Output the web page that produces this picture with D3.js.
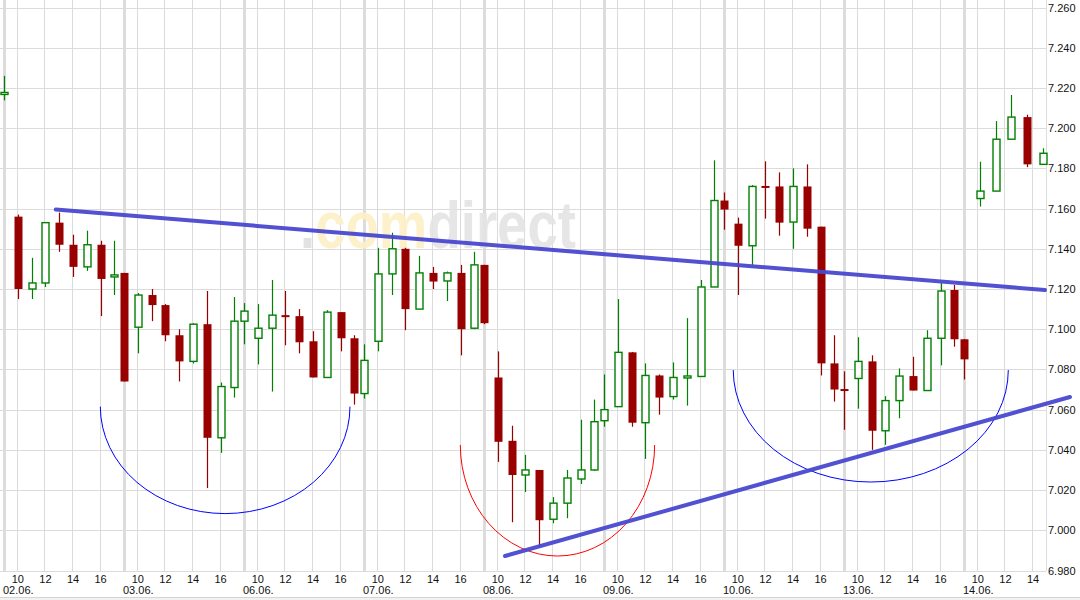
<!DOCTYPE html>
<html>
<head>
<meta charset="utf-8">
<script src="https://cdn.jsdelivr.net/npm/d3@7/dist/d3.min.js"></script>
<style>
  html, body { margin: 0; padding: 0; background: #ffffff; }
  svg { display: block; }
  text { font-family: "Liberation Sans", Arial, sans-serif; }
</style>
</head>
<body>
<svg id="chart" width="1080" height="600"></svg>
<script>
// ---------- DATA ----------
const dayLabels = ["02.06.", "03.06.", "06.06.", "07.06.", "08.06.", "09.06.", "10.06.", "13.06.", "14.06."];
const hourTicks = [10, 12, 14, 16];
const priceTicks = [6.98, 7.00, 7.02, 7.04, 7.06, 7.08, 7.10, 7.12, 7.14, 7.16, 7.18, 7.20, 7.22, 7.24, 7.26];

// [dayIndex, hour, open, high, low, close]
const candles = [
  [0, 9, 7.2170, 7.2260, 7.2138, 7.2175],
  [0, 10, 7.1560, 7.1570, 7.1150, 7.1200],
  [0, 11, 7.1200, 7.1355, 7.1150, 7.1230],
  [0, 12, 7.1230, 7.1530, 7.1210, 7.1530],
  [0, 13, 7.1530, 7.1580, 7.1385, 7.1420],
  [0, 14, 7.1420, 7.1470, 7.1260, 7.1310],
  [0, 15, 7.1310, 7.1490, 7.1290, 7.1420],
  [0, 16, 7.1420, 7.1440, 7.1065, 7.1250],
  [0, 17, 7.1260, 7.1440, 7.1170, 7.1270],
  [1, 9, 7.1280, 7.1280, 7.0740, 7.0740],
  [1, 10, 7.1010, 7.1180, 7.0880, 7.1170],
  [1, 11, 7.1170, 7.1200, 7.1040, 7.1120],
  [1, 12, 7.1120, 7.1125, 7.0940, 7.0970],
  [1, 13, 7.0970, 7.1000, 7.0740, 7.0840],
  [1, 14, 7.0840, 7.1030, 7.0830, 7.1025],
  [1, 15, 7.1025, 7.1190, 7.0210, 7.0460],
  [1, 16, 7.0460, 7.0735, 7.0385, 7.0715],
  [1, 17, 7.0710, 7.1160, 7.0660, 7.1040],
  [2, 9, 7.1040, 7.1130, 7.0925, 7.1090],
  [2, 10, 7.0955, 7.1125, 7.0825, 7.1005],
  [2, 11, 7.1005, 7.1245, 7.0690, 7.1070],
  [2, 12, 7.1070, 7.1190, 7.0920, 7.1060],
  [2, 13, 7.1065, 7.1100, 7.0880, 7.0935],
  [2, 14, 7.0940, 7.0990, 7.0760, 7.0760],
  [2, 15, 7.0760, 7.1095, 7.0760, 7.1085],
  [2, 16, 7.1085, 7.1085, 7.0890, 7.0955],
  [2, 17, 7.0955, 7.0970, 7.0625, 7.0680],
  [3, 9, 7.0680, 7.0925, 7.0655, 7.0845],
  [3, 10, 7.0940, 7.1405, 7.0890, 7.1275],
  [3, 11, 7.1275, 7.1480, 7.1170, 7.1400],
  [3, 12, 7.1400, 7.1405, 7.0995, 7.1100],
  [3, 13, 7.1100, 7.1365, 7.1100, 7.1280],
  [3, 14, 7.1280, 7.1310, 7.1200, 7.1237],
  [3, 15, 7.1240, 7.1287, 7.1140, 7.1280],
  [3, 16, 7.1280, 7.1320, 7.0870, 7.1000],
  [3, 17, 7.1005, 7.1385, 7.1000, 7.1320],
  [4, 9, 7.1320, 7.1320, 7.1025, 7.1030],
  [4, 10, 7.0760, 7.0890, 7.0340, 7.0440],
  [4, 11, 7.0445, 7.0520, 7.0040, 7.0275],
  [4, 12, 7.0275, 7.0375, 7.0190, 7.0300],
  [4, 13, 7.0300, 7.0300, 6.9920, 7.0050],
  [4, 14, 7.0055, 7.0165, 7.0035, 7.0135],
  [4, 15, 7.0135, 7.0300, 7.0060, 7.0260],
  [4, 16, 7.0255, 7.0550, 7.0230, 7.0300],
  [4, 17, 7.0300, 7.0650, 7.0295, 7.0540],
  [5, 9, 7.0545, 7.0775, 7.0515, 7.0600],
  [5, 10, 7.0615, 7.1150, 7.0615, 7.0885],
  [5, 11, 7.0885, 7.0887, 7.0515, 7.0535],
  [5, 12, 7.0535, 7.0830, 7.0355, 7.0770],
  [5, 13, 7.0770, 7.0775, 7.0575, 7.0660],
  [5, 14, 7.0665, 7.0835, 7.0650, 7.0760],
  [5, 15, 7.0760, 7.1055, 7.0620, 7.0765],
  [5, 16, 7.0765, 7.1245, 7.0765, 7.1210],
  [5, 17, 7.1210, 7.1840, 7.1210, 7.1640],
  [6, 9, 7.1640, 7.1680, 7.1495, 7.1595],
  [6, 10, 7.1525, 7.1555, 7.1170, 7.1415],
  [6, 11, 7.1415, 7.1717, 7.1320, 7.1710],
  [6, 12, 7.1710, 7.1835, 7.1550, 7.1705],
  [6, 13, 7.1710, 7.1780, 7.1465, 7.1530],
  [6, 14, 7.1533, 7.1800, 7.1400, 7.1710],
  [6, 15, 7.1710, 7.1820, 7.1460, 7.1500],
  [6, 16, 7.1510, 7.1510, 7.0770, 7.0830],
  [6, 17, 7.0830, 7.0970, 7.0640, 7.0700],
  [7, 9, 7.0700, 7.0790, 7.0500, 7.0695],
  [7, 10, 7.0755, 7.0960, 7.0605, 7.0840],
  [7, 11, 7.0840, 7.0870, 7.0400, 7.0495],
  [7, 12, 7.0495, 7.0667, 7.0425, 7.0645],
  [7, 13, 7.0645, 7.0805, 7.0557, 7.0767],
  [7, 14, 7.0767, 7.0863, 7.0695, 7.0695],
  [7, 15, 7.0695, 7.0995, 7.0695, 7.0955],
  [7, 16, 7.0955, 7.1230, 7.0820, 7.1190],
  [7, 17, 7.1195, 7.1220, 7.0913, 7.0950],
  [8, 9, 7.0950, 7.0952, 7.0750, 7.0850],
  [8, 10.15, 7.1650, 7.1833, 7.1610, 7.1687],
  [8, 11.3, 7.1687, 7.2035, 7.1687, 7.1945],
  [8, 12.4, 7.1945, 7.2165, 7.1945, 7.2055],
  [8, 13.55, 7.2055, 7.2067, 7.1806, 7.1820],
  [8, 14.7, 7.1820, 7.1900, 7.1820, 7.1875]
];

// trend lines: [day0, hour0, price0, day1, hour1, price1]
const trendLines = [
  [0, 12.75, 7.1595, 8, 14.87, 7.1195],
  [4, 10.52, 6.9872, 8, 16.68, 7.0663]
];

// rounding arcs (lower half of ellipse): [dayLeft, hourLeft, dayRight, hourRight, priceTop, priceBottom, colour]
const arcs = [
  [0, 15.98, 2, 16.68, 7.0615, 7.0083, "#0000ff"],
  [3, 15.98, 5, 12.67, 7.0424, 6.9872, "#ff0000"],
  [6, 9.67, 8, 12.21, 7.0797, 7.0240, "#0000ff"]
];

// ---------- LAYOUT ----------
const W = 1080, H = 600;
const plotRight = 1046, plotBottom = 571;
const HPD = 120 / 13.8;               // trading-hour units per day slot
const tOf = (d, h) => d * HPD + (h - 9);

const x = d3.scaleLinear().domain([0, dayLabels.length * HPD]).range([4, 4 + 120 * dayLabels.length]);
const y = d3.scaleLinear().domain([6.98, 7.26]).range([570.5, 7.5]);

const svg = d3.select("#chart");
svg.append("rect").attr("width", W).attr("height", H).attr("fill", "#ffffff");

// watermark colouring: grey dot, yellow "com", grey "direct"
const defs = svg.append("defs");
const wmGrad = defs.append("linearGradient").attr("id", "wmGrad")
  .attr("gradientUnits", "userSpaceOnUse").attr("x1", 300).attr("x2", 578).attr("y1", 0).attr("y2", 0);
const stopA = (313 - 300) / 278, stopB = (426 - 300) / 278;
[[0, "#e0e0e0"], [stopA, "#e0e0e0"], [stopA, "#fdf0c8"], [stopB, "#fdf0c8"], [stopB, "#e4e4e4"], [1, "#e4e4e4"]]
  .forEach(s => wmGrad.append("stop").attr("offset", s[0]).attr("stop-color", s[1]));

const grid = svg.append("g").attr("shape-rendering", "crispEdges");

// horizontal grid
grid.selectAll("line.h").data(priceTicks).enter().append("line")
  .attr("x1", 0).attr("x2", plotRight)
  .attr("y1", d => Math.round(y(d)) + 0.5).attr("y2", d => Math.round(y(d)) + 0.5)
  .attr("stroke", "#dbdbdb").attr("stroke-width", 1);

// hour ticks
const hourTickTimes = [];
dayLabels.forEach((lab, d) => hourTicks.forEach(h => {
  const t = tOf(d, h);
  if (x(t) < plotRight - 4) hourTickTimes.push({ t: t, h: h });
}));

grid.selectAll("line.v").data(hourTickTimes).enter().append("line")
  .attr("x1", d => Math.round(x(d.t)) - 0.5).attr("x2", d => Math.round(x(d.t)) - 0.5)
  .attr("y1", 0).attr("y2", plotBottom)
  .attr("stroke", "#dbdbdb").attr("stroke-width", 1);

// day separators
grid.selectAll("line.day").data(dayLabels).enter().append("line")
  .attr("x1", (d, i) => x(tOf(i, 9)) + 0.5).attr("x2", (d, i) => x(tOf(i, 9)) + 0.5)
  .attr("y1", 0).attr("y2", plotBottom)
  .attr("stroke", "#dcdcdc").attr("stroke-width", 3);

// right border
grid.append("line").attr("x1", plotRight + 0.5).attr("x2", plotRight + 0.5)
  .attr("y1", 0).attr("y2", plotBottom).attr("stroke", "#dcdcdc");

// watermark (single text element)
svg.append("text").attr("x", 300).attr("y", 248)
  .attr("font-weight", "bold").attr("font-size", 66).attr("opacity", 0.92)
  .attr("font-family", "'Liberation Sans', Arial, sans-serif")
  .attr("textLength", 276).attr("lengthAdjust", "spacingAndGlyphs")
  .attr("fill", "url(#wmGrad)").text(".comdirect");

// arcs
svg.append("g").selectAll("path").data(arcs).enter().append("path")
  .attr("d", a => {
    const xl = x(tOf(a[0], a[1])), xr = x(tOf(a[2], a[3]));
    const yt = y(a[4]), yb = y(a[5]);
    const rx = (xr - xl) / 2, ry = yb - yt;
    return `M${xl},${yt} A${rx},${ry} 0 0 0 ${xr},${yt}`;
  })
  .attr("fill", "none").attr("stroke", a => a[6]).attr("stroke-width", 1);

// candles
const RED = "#990000", GREEN = "#008000";
const cg = svg.append("g");
const cs = cg.selectAll("g.c").data(candles).enter().append("g");
cs.append("line")
  .attr("x1", c => Math.round(x(tOf(c[0], c[1]))) + 0.5)
  .attr("x2", c => Math.round(x(tOf(c[0], c[1]))) + 0.5)
  .attr("y1", c => y(c[3])).attr("y2", c => y(c[4]))
  .attr("stroke", c => c[5] >= c[2] ? GREEN : RED).attr("stroke-width", 1.2);
cs.append("rect")
  .attr("x", c => Math.round(x(tOf(c[0], c[1]))) + (c[5] >= c[2] ? -3 : -3.5))
  .attr("width", c => c[5] >= c[2] ? 7 : 8)
  .attr("y", c => {
    const top = y(Math.max(c[2], c[5])), bot = y(Math.min(c[2], c[5]));
    return (bot - top < 2) ? (top + bot) / 2 - 1 : top;
  })
  .attr("height", c => {
    const top = y(Math.max(c[2], c[5])), bot = y(Math.min(c[2], c[5]));
    return Math.max(2, bot - top);
  })
  .attr("fill", c => c[5] >= c[2] ? "#ffffff" : RED)
  .attr("stroke", c => c[5] >= c[2] ? GREEN : "none")
  .attr("stroke-width", 1.4);

// trend lines
svg.append("g").selectAll("line").data(trendLines).enter().append("line")
  .attr("x1", l => x(tOf(l[0], l[1]))).attr("y1", l => y(l[2]))
  .attr("x2", l => x(tOf(l[3], l[4]))).attr("y2", l => y(l[5]))
  .attr("stroke", "#4848cf").attr("stroke-width", 4).attr("stroke-linecap", "round")
  .attr("opacity", 0.95);

// right axis
const yAxis = d3.axisRight(y).tickValues(priceTicks).tickSize(0).tickPadding(2)
  .tickFormat(d3.format(".3f"));
const ya = svg.append("g").attr("transform", `translate(${plotRight},0)`).call(yAxis);
ya.select(".domain").remove();
ya.selectAll("text").attr("font-size", 11).attr("fill", "#111")
  .attr("font-family", "'Liberation Sans', Arial, sans-serif");

// bottom axis (hour labels)
const xAxis = d3.axisBottom(x).tickValues(hourTickTimes.map(d => d.t)).tickSize(0).tickPadding(4)
  .tickFormat((t, i) => String(hourTickTimes[i].h));
const xa = svg.append("g").attr("transform", `translate(-0.5,${plotBottom})`).call(xAxis);
xa.select(".domain").remove();
xa.selectAll("text").attr("font-size", 11).attr("fill", "#111")
  .attr("font-family", "'Liberation Sans', Arial, sans-serif");

// date labels
svg.append("g").selectAll("text").data(dayLabels).enter().append("text")
  .attr("x", (d, i) => x(tOf(i, 9)) - 1).attr("y", 594)
  .attr("font-size", 11).attr("fill", "#111").text(d => d);

// bottom frame
svg.append("line").attr("x1", 0).attr("x2", W).attr("y1", 597.5).attr("y2", 597.5)
  .attr("stroke", "#d4d4d4").attr("shape-rendering", "crispEdges");
svg.append("rect").attr("x", 0).attr("y", 598).attr("width", W).attr("height", 2).attr("fill", "#f2f2f2");
</script>
</body>
</html>
